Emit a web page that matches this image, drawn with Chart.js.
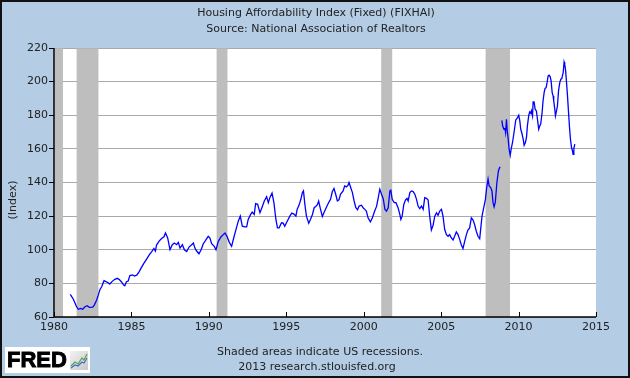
<!DOCTYPE html>
<html>
<head>
<meta charset="utf-8">
<script src="https://cdn.jsdelivr.net/npm/chart.js@4"></script>
<style>
html,body{margin:0;padding:0;background:#b4cde5;}
canvas{display:block;}
</style>
</head>
<body>
<canvas id="c" width="630" height="378"></canvas>
<script>
// ---- data ----
const titleText = "Housing Affordability Index (Fixed) (FIXHAI)";
const subtitleText = "Source: National Association of Realtors";
const yAxisTitle = "(Index)";
const footnote1 = "Shaded areas indicate US recessions.";
const footnote2 = "2013 research.stlouisfed.org";

const years = [
1981.05,1981.24,1981.46,1981.57,1981.72,1981.85,1982.0,1982.15,1982.28,1982.5,1982.6,1982.75,1982.86,1982.97,
1983.08,1983.23,1983.36,1983.5,1983.6,1983.76,1983.93,1984.08,1984.2,1984.35,1984.5,1984.57,1984.68,1984.79,1984.9,
1985.07,1985.2,1985.36,1985.5,1985.65,1985.8,1985.97,1986.14,1986.3,1986.45,1986.55,1986.62,1986.8,1986.95,
1987.1,1987.2,1987.34,1987.49,1987.64,1987.77,1987.92,1988.03,1988.14,1988.29,1988.42,1988.57,1988.72,1988.89,
1989.0,1989.1,1989.2,1989.36,1989.5,1989.64,1989.79,1989.96,1990.07,1990.18,1990.35,1990.46,1990.61,1990.78,1990.93,
1991.04,1991.17,1991.32,1991.47,1991.62,1991.75,1991.9,1992.03,1992.16,1992.33,1992.44,1992.54,1992.7,1992.8,1992.93,
1993.02,1993.15,1993.3,1993.4,1993.58,1993.73,1993.84,1993.94,1994.08,1994.2,1994.33,1994.43,1994.54,1994.69,1994.8,1994.9,
1995.06,1995.23,1995.36,1995.49,1995.62,1995.7,1995.83,1995.94,1996.04,1996.11,1996.2,1996.3,1996.45,1996.56,1996.69,1996.8,1996.9,
1997.0,1997.09,1997.2,1997.33,1997.48,1997.63,1997.76,1997.86,1997.97,1998.08,1998.19,1998.3,1998.4,1998.5,1998.67,1998.77,1998.88,1998.99,
1999.05,1999.16,1999.27,1999.38,1999.49,1999.6,1999.7,1999.85,1999.96,2000.07,2000.17,2000.28,2000.43,2000.56,2000.72,2000.83,2000.94,
2001.04,2001.15,2001.26,2001.37,2001.47,2001.58,2001.69,2001.75,2001.84,2001.97,2002.08,2002.22,2002.33,2002.4,2002.48,2002.59,2002.7,2002.8,2002.87,2002.98,
2003.08,2003.19,2003.3,2003.41,2003.51,2003.62,2003.73,2003.84,2003.94,2004.05,2004.16,2004.26,2004.37,2004.48,2004.59,2004.7,2004.8,2004.91,
2005.02,2005.12,2005.23,2005.34,2005.45,2005.55,2005.66,2005.77,2005.87,2005.98,2006.09,2006.2,2006.3,2006.41,2006.52,2006.63,2006.73,2006.84,2006.95,
2007.06,2007.16,2007.27,2007.38,2007.49,2007.55,2007.64,2007.75,2007.86,2007.94,2008.03,2008.1,2008.2,2008.28,2008.35,2008.42,2008.5,2008.6,2008.7,2008.8,
2008.87,
2008.92,2008.97,2009.05,2009.12,2009.16,2009.22,2009.26,2009.33,2009.39,2009.46,2009.52,2009.61,2009.69,2009.76,2009.82,2009.93,
2010.01,2010.08,2010.14,2010.23,2010.3,2010.36,2010.44,2010.51,2010.57,2010.66,2010.72,2010.79,2010.83,2010.9,2010.94,
2011.0,2011.07,2011.15,2011.22,2011.3,2011.37,2011.43,2011.52,2011.58,2011.65,2011.71,2011.78,2011.84,2011.91,2011.97,
2012.04,2012.1,2012.17,2012.23,2012.27,2012.34,2012.38,2012.45,2012.51,2012.58,2012.66,2012.73,2012.79,2012.88,2012.94,2012.98,
2013.03,2013.09,2013.16,2013.22,2013.29,2013.35,2013.42,2013.48,2013.52,2013.57,2013.63
];
const values = [
73.5,70.7,66.1,64.6,65.1,64.6,66.1,66.7,65.7,65.9,67.1,70,73,76.4,
78,81.6,81,80.4,79.6,81.2,82.4,83,82.4,81,79,78.6,81,81.4,84.6,
85,84.4,85,87,89.5,91.9,94.3,96.8,98.8,100.8,99.2,102.8,105.3,106.7,
107.7,110,107,100,103,104,103,104.4,101,103,100,99,101.6,103,
104,101,99.4,97.6,100,103.6,105.6,108,107,103.6,102,100,105,107.6,109,
110,108,104.4,102,107.6,112,117,120,114,113.6,113.6,118,121,122.4,121,
127.4,127,122,124.4,129,131.6,128,131,133.7,128,118,113,113,116,115.8,114,
117,120,121.8,121.2,120,124,126.7,130,134,135,127,120,115.8,118,121,125,125.7,
126.7,129,124.5,119.8,123,126,128.5,130,134.5,136.4,133,129,129.7,133,135,138,137.4,138.4,
140,137,134,129,125,123.8,126,126.5,125,124,123,119,116.6,119,123.3,125.8,131,
136,133,130.4,124,123,125,135,135.4,130,128,128,125,121,118,120,127,129.6,130.5,129,134,
135,134.6,133,130,126,124.5,126,124,131,130.6,129.6,120,111.8,114.6,120,122,120.5,123,
124,120,112,109,108,109,107,105.8,108,110.6,109,106,103,100.8,105,109,111.7,113,119,
117.7,115,111,108,106.6,112,120,125,130,137,142,138,137,135,128,125.5,128.5,140,147,149.4,
null,
177,173.7,171.7,172,169.7,177.6,171.7,165.7,159.8,156.2,159.8,163.8,168.7,173.3,177.2,178.6,
180,176.6,171.7,168.7,165.7,162.2,163.8,166.7,173.7,180,182,181.2,182.6,179.6,188,
188,183.6,182.6,177.6,171.7,173.7,174.7,181.6,188.5,193.5,196,196.4,199.4,203.4,203.8,
203,200.4,193.5,191.5,188.5,183.6,179.6,182.6,185.5,194.5,199.4,201.4,201.8,205.3,211.7,210.3,
207.3,200.4,191.5,182.6,172.7,165.7,160.8,158.8,156.8,160.2,162.8
];

// NBER recessions (fractional years), as shaded in the reference
const recessionStart = [1980.0, 1981.46, 1990.5, 2001.13, 2007.87];
const recessionEnd   = [1980.58, 1982.87, 1991.2, 2001.84, 2009.45];

const xTicksMin = 1980, xTicksMax = 2015, xStep = 5;
const yTicksMin = 60, yTicksMax = 220, yStep = 20;

// ---- drawing ----
const BG = '#b4cde5';
const FONT = "'DejaVu Sans', Verdana, sans-serif";

const decor = {
  id: 'decor',
  beforeDraw(chart) {
    const {ctx, chartArea: a} = chart;
    ctx.save();
    ctx.fillStyle = BG;
    ctx.fillRect(0, 0, chart.width, chart.height);
    ctx.fillStyle = '#ffffff';
    ctx.fillRect(a.left, a.top, a.right - a.left, a.bottom - a.top);
    ctx.restore();
  },
  beforeDatasetsDraw(chart) {
    const {ctx, chartArea: a, scales: {x}} = chart;
    ctx.save();
    ctx.fillStyle = '#bebebe';
    for (let i = 0; i < recessionStart.length; i++) {
      const x0 = Math.max(x.getPixelForValue(recessionStart[i]), a.left + 0.5);
      const x1 = x.getPixelForValue(recessionEnd[i]);
      ctx.fillRect(x0, a.top + 0.5, x1 - x0, a.bottom - a.top - 0.5);
    }
    ctx.restore();
  },
  afterDraw(chart) {
    const {ctx, chartArea: a, scales: {x}} = chart;
    ctx.save();
    // axes lines
    ctx.strokeStyle = '#000';
    ctx.lineWidth = 1.5;
    ctx.beginPath();
    ctx.moveTo(a.left, a.top);
    ctx.lineTo(a.left, a.bottom);
    ctx.lineTo(a.right, a.bottom);
    ctx.stroke();
    // inward x tick marks
    ctx.lineWidth = 1;
    for (let v = xTicksMin; v <= xTicksMax; v += xStep) {
      const px = Math.round(x.getPixelForValue(v)) + 0.5;
      ctx.beginPath();
      ctx.moveTo(px, a.bottom);
      ctx.lineTo(px, a.bottom - 5);
      ctx.stroke();
    }
    // titles
    ctx.fillStyle = '#222';
    ctx.textAlign = 'center';
    ctx.textBaseline = 'middle';
    ctx.font = "11px " + FONT;
    ctx.fillText(titleText, 316, 13);
    ctx.fillText(subtitleText, 316, 29);
    // footnotes
    ctx.fillText(footnote1, 320, 352);
    ctx.fillText(footnote2, 317, 367);
    // y axis title
    ctx.save();
    ctx.translate(13, 200);
    ctx.rotate(-Math.PI / 2);
    ctx.fillText(yAxisTitle, 0, 0);
    ctx.restore();
    // FRED logo
    ctx.fillStyle = '#fff';
    ctx.fillRect(5, 347, 85, 26);
    ctx.fillStyle = '#000';
    ctx.strokeStyle = '#000';
    ctx.lineWidth = 0.9;
    ctx.textAlign = 'left';
    ctx.font = "bold 22px 'Liberation Sans', Arial, sans-serif";
    ctx.fillText('FRED', 7, 361);
    ctx.strokeText('FRED', 7, 361);
    // small chart icon
    const g = ctx.createLinearGradient(70, 350, 88, 370);
    g.addColorStop(0, '#f4f4f4'); g.addColorStop(1, '#c8c8c8');
    ctx.fillStyle = g;
    ctx.fillRect(70, 351, 18, 19);
    ctx.lineWidth = 1.2;
    ctx.strokeStyle = '#5aa05a';
    ctx.beginPath();
    ctx.moveTo(71, 366); ctx.lineTo(75, 362); ctx.lineTo(78, 364); ctx.lineTo(82, 358); ctx.lineTo(84, 360); ctx.lineTo(87, 354);
    ctx.stroke();
    ctx.strokeStyle = '#3c6ec8';
    ctx.beginPath();
    ctx.moveTo(71, 368); ctx.lineTo(75, 365); ctx.lineTo(78, 366); ctx.lineTo(82, 362); ctx.lineTo(84, 363); ctx.lineTo(87, 358);
    ctx.stroke();
    // outer border
    ctx.strokeStyle = '#111';
    ctx.lineWidth = 2;
    ctx.strokeRect(1, 1, chart.width - 2, chart.height - 2);
    ctx.restore();
  }
};

new Chart(document.getElementById('c'), {
  type: 'line',
  data: {
    datasets: [{
      data: years.map((yr, i) => ({x: yr, y: values[i]})),
      borderColor: '#0000ff',
      borderWidth: 1.3,
      pointRadius: 0,
      tension: 0,
      spanGaps: false,
      fill: false
    }]
  },
  options: {
    responsive: false,
    animation: false,
    events: [],
    layout: {padding: {left: 0, right: 34, top: 48, bottom: 0}},
    plugins: {legend: {display: false}, tooltip: {enabled: false}},
    scales: {
      x: {
        type: 'linear',
        min: xTicksMin, max: xTicksMax,
        ticks: {stepSize: xStep, color: '#222', font: {family: FONT, size: 11}, padding: 4,
                callback: v => String(v), maxRotation: 0, autoSkip: false},
        grid: {display: false, drawTicks: false},
        border: {display: false},
        afterFit(s) { s.height = 61; }
      },
      y: {
        min: yTicksMin, max: yTicksMax,
        ticks: {stepSize: yStep, color: '#222', font: {family: FONT, size: 11}, padding: 1},
        grid: {color: '#aaaaaa', lineWidth: 1, tickColor: '#000', tickLength: 5},
        border: {display: false},
        afterFit(s) { s.width = 54; }
      }
    }
  },
  plugins: [decor]
});
</script>
</body>
</html>
